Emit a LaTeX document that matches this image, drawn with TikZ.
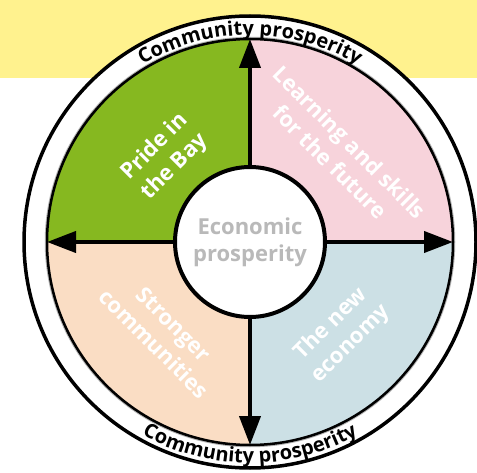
\documentclass[tikz,border=0pt]{standalone}
\usepackage{fontspec}
\setmainfont{Open Sans}
\usetikzlibrary{arrows.meta,decorations.text,calc}
\definecolor{bandyellow}{HTML}{FFF28E}
\definecolor{qgreen}{HTML}{86B820}
\definecolor{qpink}{HTML}{F7D3DB}
\definecolor{qpeach}{HTML}{FADDC4}
\definecolor{qblue}{HTML}{CCE0E5}
\definecolor{hubgray}{HTML}{B9B9B9}
\tikzset{
  arr/.style={line width=4pt, -{Triangle[length=29pt,width=21pt]}},
  qtext/.style={text=white, font=\bfseries\fontsize{22}{28}\selectfont, align=center, inner sep=0pt},
  hub/.style={circle, draw, line width=4pt, fill=white, minimum size=150pt, inner sep=0pt,
    text=hubgray, font=\bfseries\fontsize{22}{27}\selectfont, align=center}
}
\begin{document}
\begin{tikzpicture}[x=1pt,y=1pt]
\useasboundingbox (0,0) rectangle (477,472);
\fill[bandyellow] (0,394) rectangle (477,472);
\coordinate (c) at (250,230);
\draw[line width=3.5pt, fill=white] (c) circle (226);
\fill[qgreen] (c) -- ++(180:203) arc (180:90:203) -- cycle;
\fill[qpink] (c) -- ++(90:203) arc (90:0:203) -- cycle;
\fill[qblue] (c) -- ++(0:203) arc (0:-90:203) -- cycle;
\fill[qpeach] (c) -- ++(-90:203) arc (-90:-180:203) -- cycle;
\draw[gray!60, line width=1.5pt] (c) circle (204.5);
\draw[line width=2.5pt] (c) circle (203);
% ring labels
\path[decorate, decoration={text along path, text align=center,
  text={|\bfseries\fontsize{20}{20}\selectfont|Community prosperity}}]
  ($(c)+(150:207)$) arc (150:30:207);
\path[decorate, decoration={text along path, text align=center,
  text={|\bfseries\fontsize{20}{20}\selectfont|Community prosperity}}]
  ($(c)+(210:221)$) arc (210:330:221);
% hub and spokes
\node[hub] (hub) at (c) {Economic\\prosperity};
\coordinate (ntop) at ($(c)+(90:203)$);
\coordinate (nbot) at ($(c)+(-90:203)$);
\coordinate (nleft) at ($(c)+(180:203)$);
\coordinate (nright) at ($(c)+(0:203)$);
\draw[arr] (hub.north) -- (ntop);
\draw[arr] (hub.south) -- (nbot);
\draw[arr] (hub.west) -- (nleft);
\draw[arr] (hub.east) -- (nright);
% quadrant labels
\node[qtext, rotate=45] (pride) at (165,315) {Pride in\\the Bay};
\node[qtext, rotate=-45] (learn) at (340,320) {Learning and skills\\for the future};
\node[qtext, rotate=-45] (strong) at (164,138) {Stronger\\communities};
\node[qtext, rotate=45] (econ) at (341,138) {The new\\economy};
\end{tikzpicture}
\end{document}
